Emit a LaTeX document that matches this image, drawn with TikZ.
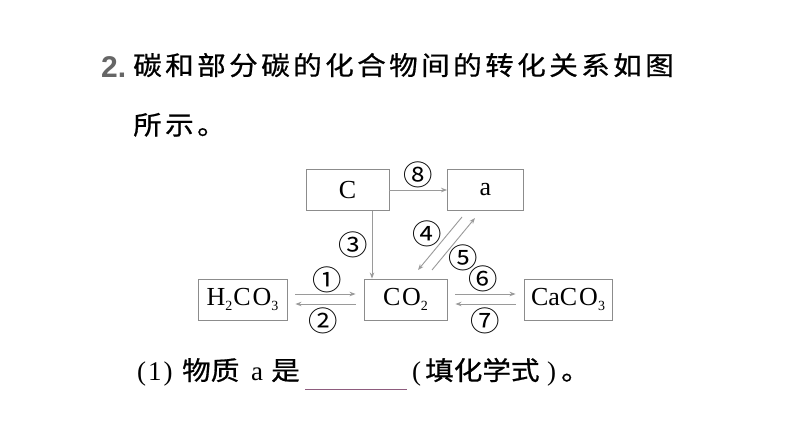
\documentclass[tikz,border=0pt]{standalone}
\usepackage{fontspec}
\usetikzlibrary{arrows.meta}
\newfontfamily\cjk[FakeStretch=1.1,FakeBold=0.7]{Noto Sans CJK SC}
\newfontfamily\circf[FakeStretch=1.05]{Noto Sans CJK SC}
\newfontfamily\ser{Liberation Serif}
\newfontfamily\numfont{Liberation Sans}
\definecolor{boxgray}{HTML}{8C8C8C}
\definecolor{arrgray}{HTML}{9A9A9A}
\definecolor{blankline}{HTML}{8E5C7E}
\definecolor{numgray}{HTML}{666666}
\newcommand\mysub[1]{\raisebox{-5pt}{\fontsize{14}{14}\selectfont #1}}
\newcommand\gp{\kern3.4pt}
\begin{document}
\begin{tikzpicture}[x=1pt,y=-1pt,
 box/.style={draw=boxgray,line width=0.9pt,minimum width=#1,minimum height=41pt,inner sep=0pt,font=\ser\fontsize{26}{26}\selectfont},
 conn/.style={draw=arrgray,line width=0.9pt,-{Stealth[length=6pt,width=4.5pt]}},
 lbl/.style={inner sep=0pt,font=\circf\fontsize{28}{28}\selectfont},
 txt/.style={inner sep=0pt,anchor=base west,font=\cjk\fontsize{26}{26}\selectfont},
 stxt/.style={inner sep=0pt,anchor=base west,font=\ser\fontsize{27}{27}\selectfont}]
\useasboundingbox (0,0) rectangle (794,447);
\fill[white] (0,0) rectangle (794,447);

% title
\node[inner sep=0pt,anchor=base west,text=numgray,font=\numfont\bfseries\fontsize{30}{30}\selectfont] (num) at (101,77) {2.};
\node[txt] (t1) at (133,75) {碳\gp 和\gp 部\gp 分\gp 碳\gp 的\gp 化\gp 合\gp 物\gp 间\gp 的\gp 转\gp 化\gp 关\gp 系\gp 如\gp 图};
\node[txt] (t2) at (133,134.5) {所\gp 示\gp 。};

% boxes
\node[box=83pt] (c) at (347.5,190) {C};
\node[box=76pt] (a) at (485.5,190) {a};
\node[box=89pt] (h) at (242.5,299.5) {H\mysub{2}\kern1pt C\kern2pt O\mysub{3}};
\node[box=83pt] (co) at (405.5,299.5) {C\kern1.5pt O\mysub{2}};
\node[box=88pt] (ca) at (568,299.5) {CaC\kern2pt O\mysub{3}};

% connectors
\draw[conn] (c) -- (a);
\draw[conn] ([xshift=24.5pt]c.south) -- ([xshift=24.5pt]c.south |- co.north);
\draw[conn,shorten <=8pt,shorten >=8pt] ([yshift=5.5pt]h.east) -- ([yshift=5.5pt]co.west);
\draw[conn,shorten <=8pt,shorten >=8pt] ([yshift=-4.5pt]co.west) -- ([yshift=-4.5pt]h.east);
\draw[conn,shorten <=8pt,shorten >=8pt] ([yshift=5.5pt]co.east) -- ([yshift=5.5pt]ca.west);
\draw[conn,shorten <=8pt,shorten >=8pt] ([yshift=-4.5pt]ca.west) -- ([yshift=-4.5pt]co.east);
\coordinate (d1s) at (462,217);
\coordinate (d1e) at (418,270);
\coordinate (d2s) at (432,270);
\coordinate (d2e) at (475,218);
\draw[conn] (d1s) -- (d1e);
\draw[conn] (d2s) -- (d2e);

% labels
\node[lbl] (l8) at (418,175) {⑧};
\node[lbl] (l3) at (353,245) {③};
\node[lbl] (l4) at (427,234) {④};
\node[lbl] (l5) at (463,258) {⑤};
\node[lbl] (l1) at (327,280) {①};
\node[lbl] (l2) at (323,321) {②};
\node[lbl] (l6) at (483,279) {⑥};
\node[lbl] (l7) at (485,321) {⑦};

% question
\node[stxt] (q1) at (137,380) {(\kern2pt 1\kern2pt)};
\node[txt] (q2) at (182,380) {物质};
\node[stxt] (q3) at (251,380) {a};
\node[txt] (q4) at (271,380) {是};
\coordinate (bl1) at (305,389);
\coordinate (bl2) at (407,389);
\draw[blankline,line width=0.8pt] (bl1) -- (bl2);
\node[stxt] (q5) at (412,380) {(};
\node[txt] (q6) at (425,380) {填化学式};
\node[stxt] (q7) at (547,380) {)};
\node[txt] (q8) at (561,380) {。};
\end{tikzpicture}
\end{document}
